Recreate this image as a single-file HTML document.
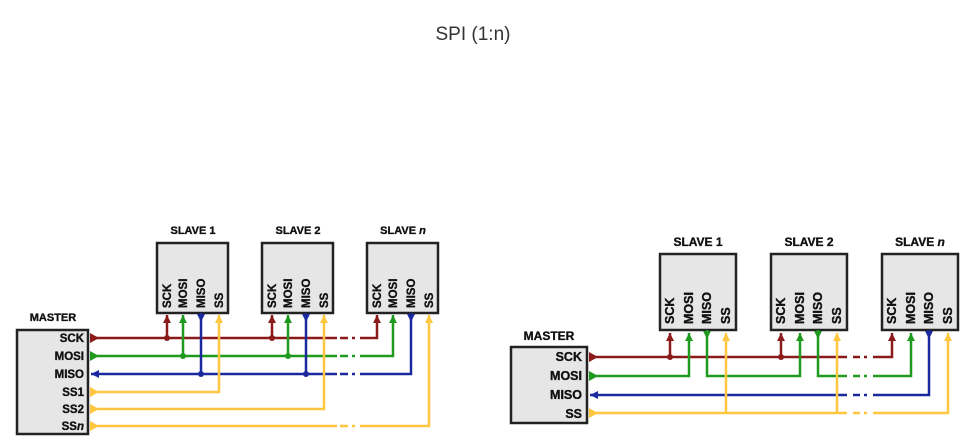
<!DOCTYPE html>
<html><head><meta charset="utf-8"><style>
html,body{margin:0;padding:0;background:#fff;}
svg{display:block;}
text{font-family:"Liberation Sans",Arial,sans-serif;}
.b{font-weight:bold;fill:#111;stroke:#111;stroke-width:0.35;}
.box{fill:#e6e6e6;stroke:#222;stroke-width:2.5;}
.l{fill:none;stroke-width:2.5;}
.r{stroke:#8b1a1a;} .g{stroke:#1f9a1f;} .bl{stroke:#1a2a9e;} .y{stroke:#ffc640;}
</style></head><body>
<svg width="980" height="447" viewBox="0 0 980 447" xmlns="http://www.w3.org/2000/svg">
<defs>
<marker id="mr" markerUnits="userSpaceOnUse" markerWidth="9" markerHeight="9" refX="8" refY="4" orient="auto"><path d="M0,0L8,4L0,8z" fill="#8b1a1a"/></marker>
<marker id="mg" markerUnits="userSpaceOnUse" markerWidth="9" markerHeight="9" refX="8" refY="4" orient="auto"><path d="M0,0L8,4L0,8z" fill="#1f9a1f"/></marker>
<marker id="mb" markerUnits="userSpaceOnUse" markerWidth="9" markerHeight="9" refX="8" refY="4" orient="auto"><path d="M0,0L8,4L0,8z" fill="#1a2a9e"/></marker>
<marker id="my" markerUnits="userSpaceOnUse" markerWidth="9" markerHeight="9" refX="8" refY="4" orient="auto"><path d="M0,0L8,4L0,8z" fill="#ffc640"/></marker>
</defs>
<text x="473" y="40" text-anchor="middle" font-size="19" fill="#333">SPI (1:n)</text>

<!-- LEFT DIAGRAM -->
<text x="53" y="321" class="b" font-size="11" text-anchor="middle">MASTER</text>
<rect class="box" x="17" y="330" width="71" height="104"/>
<g class="b" font-size="11.5" text-anchor="end">
<text x="84" y="342">SCK</text><text x="84" y="360">MOSI</text><text x="84" y="378">MISO</text>
<text x="84" y="396">SS1</text><text x="84" y="413">SS2</text><text x="84" y="430">SS<tspan font-style="italic">n</tspan></text>
</g>
<g class="b" font-size="11" text-anchor="middle">
<text x="193" y="234">SLAVE 1</text><text x="298" y="234">SLAVE 2</text><text x="403" y="234">SLAVE <tspan font-style="italic">n</tspan></text>
</g>
<rect class="box" x="157" y="243" width="71" height="70"/>
<rect class="box" x="262" y="243" width="71" height="70"/>
<rect class="box" x="367" y="243" width="71" height="70"/>
<g class="b" font-size="11.5">
<g transform="translate(171,308) rotate(-90)"><text>SCK</text></g>
<g transform="translate(187,308) rotate(-90)"><text>MOSI</text></g>
<g transform="translate(205,308) rotate(-90)"><text>MISO</text></g>
<g transform="translate(223,308) rotate(-90)"><text>SS</text></g>
<g transform="translate(276,308) rotate(-90)"><text>SCK</text></g>
<g transform="translate(292,308) rotate(-90)"><text>MOSI</text></g>
<g transform="translate(310,308) rotate(-90)"><text>MISO</text></g>
<g transform="translate(328,308) rotate(-90)"><text>SS</text></g>
<g transform="translate(381,308) rotate(-90)"><text>SCK</text></g>
<g transform="translate(397,308) rotate(-90)"><text>MOSI</text></g>
<g transform="translate(415,308) rotate(-90)"><text>MISO</text></g>
<g transform="translate(433,308) rotate(-90)"><text>SS</text></g>
</g>
<!-- red -->
<path class="l r" d="M90,338H337M340,338H348M352,338H355M360,338H377V315" marker-end="url(#mr)"/>
<path class="l r" d="M167,338V315" marker-end="url(#mr)"/>
<path class="l r" d="M272,338V315" marker-end="url(#mr)"/>
<circle cx="167" cy="338" r="3" fill="#8b1a1a"/><circle cx="272" cy="338" r="3" fill="#8b1a1a"/>
<polygon points="90,333 99,338 90,343" fill="#8b1a1a"/>
<!-- green -->
<path class="l g" d="M90,356H337M340,356H348M352,356H355M360,356H393V315" marker-end="url(#mg)"/>
<path class="l g" d="M183,356V315" marker-end="url(#mg)"/>
<path class="l g" d="M288,356V315" marker-end="url(#mg)"/>
<circle cx="183" cy="356" r="3" fill="#1f9a1f"/><circle cx="288" cy="356" r="3" fill="#1f9a1f"/>
<polygon points="90,351 99,356 90,361" fill="#1f9a1f"/>
<!-- blue -->
<path class="l bl" d="M201,313V322" marker-end="url(#mb)"/>
<path class="l bl" d="M306,313V322" marker-end="url(#mb)"/>
<path class="l bl" d="M411,313V322" marker-end="url(#mb)"/>
<path class="l bl" d="M201,322V374M306,322V374M411,322V374H360M355,374H352M348,374H340M337,374H91" marker-end="url(#mb)"/>
<circle cx="201" cy="374" r="3" fill="#1a2a9e"/><circle cx="306" cy="374" r="3" fill="#1a2a9e"/>
<!-- yellow -->
<path class="l y" d="M90,392H219V315" marker-end="url(#my)"/>
<path class="l y" d="M90,409H324V315" marker-end="url(#my)"/>
<path class="l y" d="M90,426H337M340,426H348M352,426H355M360,426H429V315" marker-end="url(#my)"/>
<polygon points="90,387 99,392 90,397" fill="#ffc640"/>
<polygon points="90,404 99,409 90,414" fill="#ffc640"/>
<polygon points="90,421 99,426 90,431" fill="#ffc640"/>

<!-- RIGHT DIAGRAM -->
<text x="549" y="340" class="b" font-size="12" text-anchor="middle">MASTER</text>
<rect class="box" x="511" y="347" width="76" height="76"/>
<g class="b" font-size="12.5" text-anchor="end">
<text x="582" y="361">SCK</text><text x="582" y="380">MOSI</text><text x="582" y="399">MISO</text><text x="582" y="418">SS</text>
</g>
<g class="b" font-size="12" text-anchor="middle">
<text x="698" y="246">SLAVE 1</text><text x="809" y="246">SLAVE 2</text><text x="920" y="246">SLAVE <tspan font-style="italic">n</tspan></text>
</g>
<rect class="box" x="660" y="254" width="76" height="76"/>
<rect class="box" x="771" y="254" width="76" height="76"/>
<rect class="box" x="882" y="254" width="76" height="76"/>
<g class="b" font-size="12.5">
<g transform="translate(674,324) rotate(-90)"><text>SCK</text></g>
<g transform="translate(693,324) rotate(-90)"><text>MOSI</text></g>
<g transform="translate(711,324) rotate(-90)"><text>MISO</text></g>
<g transform="translate(730,324) rotate(-90)"><text>SS</text></g>
<g transform="translate(785,324) rotate(-90)"><text>SCK</text></g>
<g transform="translate(804,324) rotate(-90)"><text>MOSI</text></g>
<g transform="translate(822,324) rotate(-90)"><text>MISO</text></g>
<g transform="translate(841,324) rotate(-90)"><text>SS</text></g>
<g transform="translate(896,324) rotate(-90)"><text>SCK</text></g>
<g transform="translate(915,324) rotate(-90)"><text>MOSI</text></g>
<g transform="translate(933,324) rotate(-90)"><text>MISO</text></g>
<g transform="translate(952,324) rotate(-90)"><text>SS</text></g>
</g>
<!-- red -->
<path class="l r" d="M589,357H847M853,357H860M864,357H867M873,357H892V333" marker-end="url(#mr)"/>
<path class="l r" d="M670,357V333" marker-end="url(#mr)"/>
<path class="l r" d="M781,357V333" marker-end="url(#mr)"/>
<circle cx="670" cy="357" r="3" fill="#8b1a1a"/><circle cx="781" cy="357" r="3" fill="#8b1a1a"/>
<polygon points="589,352 598,357 589,362" fill="#8b1a1a"/>
<!-- green -->
<path class="l g" d="M589,376H689V333" marker-end="url(#mg)"/>
<path class="l g" d="M707,330V339" marker-end="url(#mg)"/>
<path class="l g" d="M707,339V376H800V333" marker-end="url(#mg)"/>
<path class="l g" d="M818,330V339" marker-end="url(#mg)"/>
<path class="l g" d="M818,339V376H847M853,376H860M864,376H867M873,376H911V333" marker-end="url(#mg)"/>
<polygon points="589,371 598,376 589,381" fill="#1f9a1f"/>
<!-- blue -->
<path class="l bl" d="M929,330V339" marker-end="url(#mb)"/>
<path class="l bl" d="M929,339V395H873M867,395H864M860,395H853M847,395H590" marker-end="url(#mb)"/>
<!-- yellow -->
<path class="l y" d="M589,413H847M853,413H860M864,413H867M873,413H948V333" marker-end="url(#my)"/>
<path class="l y" d="M726,413V333" marker-end="url(#my)"/>
<path class="l y" d="M837,413V333" marker-end="url(#my)"/>
<polygon points="589,408 598,413 589,418" fill="#ffc640"/>
</svg>
</body></html>
